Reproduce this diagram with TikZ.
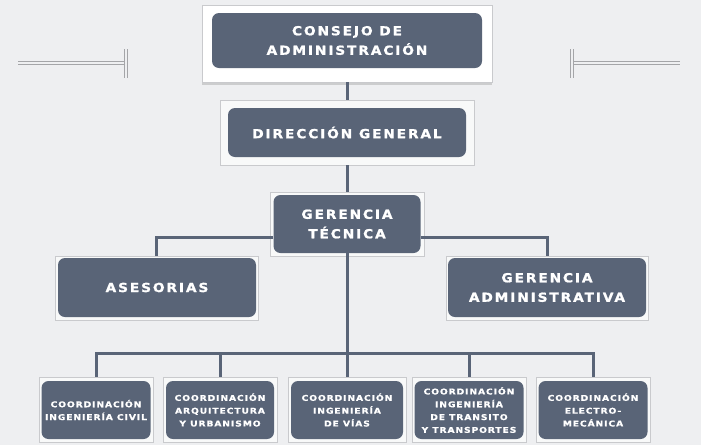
\documentclass[tikz,border=0pt]{standalone}
\usepackage{fontspec}
\newfontfamily\orgfont[LetterSpace=15,FakeStretch=1.1,FakeBold=1.2]{DejaVu Sans Bold}
\newfontfamily\coordfont[LetterSpace=11,FakeStretch=1.15,FakeBold=0.8]{DejaVu Sans Bold}
\usetikzlibrary{positioning, backgrounds, shadows}
\definecolor{slate}{HTML}{596477}
\definecolor{paper}{HTML}{EEEFF1}
\definecolor{rim}{HTML}{C9CACD}
\definecolor{ornament}{HTML}{A4A5A8}

\begin{document}
\begin{tikzpicture}[x=1pt, y=-1pt,
    panel/.style={fill=slate, rounded corners=7pt, text=white, align=center, inner sep=0pt, font=\orgfont\fontsize{12.5}{19.5}\selectfont},
    subpanel/.style={panel, font=\coordfont\fontsize{8}{12.8}\selectfont},
    mount/.style={draw=rim, fill=white!60!paper, line width=0.6pt, inner sep=0pt},
    link/.style={draw=slate, line width=3pt},
    ornamentline/.style={draw=ornament, double=paper, double distance=2pt, line width=1pt}
]
    \fill[paper] (0,0) rectangle (701,445);
    % side ornaments
    \draw[ornamentline] (18,62.5) -- (124,62.5);
    \draw[ornamentline] (125.5,49) -- (125.5,78);
    \draw[ornamentline] (573,62.5) -- (680,62.5);
    \draw[ornamentline] (571.5,49) -- (571.5,78);

    % white mounts
    \node[mount, fill=white, drop shadow={shadow xshift=0pt, shadow yshift=-3pt, opacity=0.3}, minimum width=290pt, minimum height=77pt] (consejoback) at (347,43.5) {};
    \node[mount, minimum width=254pt, minimum height=65pt] (direccionback) at (347,132.5) {};
    \node[mount, minimum width=154pt, minimum height=64pt] (tecnicaback) at (347,224) {};
    \node[mount, minimum width=203pt, minimum height=64pt] (asesoriasback) at (156.5,288) {};
    \node[mount, minimum width=202pt, minimum height=64pt] (administrativaback) at (547,288) {};
    \node[mount, minimum width=114pt, minimum height=65pt] (coordback1) at (96,409.5) {};
    \node[mount, minimum width=114pt, minimum height=65pt] (coordback2) at (220,409.5) {};
    \node[mount, minimum width=118pt, minimum height=65pt] (coordback3) at (347,409.5) {};
    \node[mount, minimum width=114pt, minimum height=65pt] (coordback4) at (469,409.5) {};
    \node[mount, minimum width=114pt, minimum height=65pt] (coordback5) at (593,409.5) {};

    % dark panels
    \node[panel, minimum width=270pt, minimum height=55pt] (consejo) at (347,40.5) {CONSEJO DE\\ADMINISTRACIÓN};
    \node[panel, minimum width=238pt, minimum height=49pt] (direccion) at (347,132.5) {DIRECCIÓN GENERAL};
    \node[panel, minimum width=147pt, minimum height=58pt] (tecnica) at (347,224) {GERENCIA\\TÉCNICA};
    \node[panel, minimum width=198pt, minimum height=59pt] (asesorias) at (157,287.5) {ASESORIAS};
    \node[panel, minimum width=198pt, minimum height=59pt] (administrativa) at (547,287.5) {GERENCIA\\ADMINISTRATIVA};
    \node[subpanel, minimum width=109pt, minimum height=58pt] (coord1) at (96,410) {COORDINACIÓN\\INGENIERÍA CIVIL};
    \node[subpanel, minimum width=108pt, minimum height=58pt] (coord2) at (220,410) {COORDINACIÓN\\ARQUITECTURA\\Y URBANISMO};
    \node[subpanel, minimum width=112pt, minimum height=58pt] (coord3) at (347,410) {COORDINACIÓN\\INGENIERÍA\\DE VÍAS};
    \node[subpanel, minimum width=109pt, minimum height=58pt] (coord4) at (469,410) {COORDINACIÓN\\INGENIERÍA\\DE TRANSITO\\Y TRANSPORTES};
    \node[subpanel, minimum width=109pt, minimum height=58pt] (coord5) at (593,410) {COORDINACIÓN\\ELECTRO-\\MECÁNICA};

    % connectors
    \coordinate (bus) at (347,353);
    \draw[link] (consejoback.south) -- (direccionback.north);
    \draw[link] (direccionback.south) -- (tecnicaback.north);
    \draw[link] ([yshift=-13pt]tecnica.west) -| (asesoriasback.north);
    \draw[link] ([yshift=-13pt]tecnica.east) -| (administrativaback.north);
    \draw[link] (tecnica.south) -- (tecnica.south |- bus);
    \draw[link] (coordback1.north) |- (bus) -| (coordback5.north);
    \foreach \i in {2,3,4}
        \draw[link] (coordback\i.north) -- (coordback\i.north |- bus);
\end{tikzpicture}
\end{document}
